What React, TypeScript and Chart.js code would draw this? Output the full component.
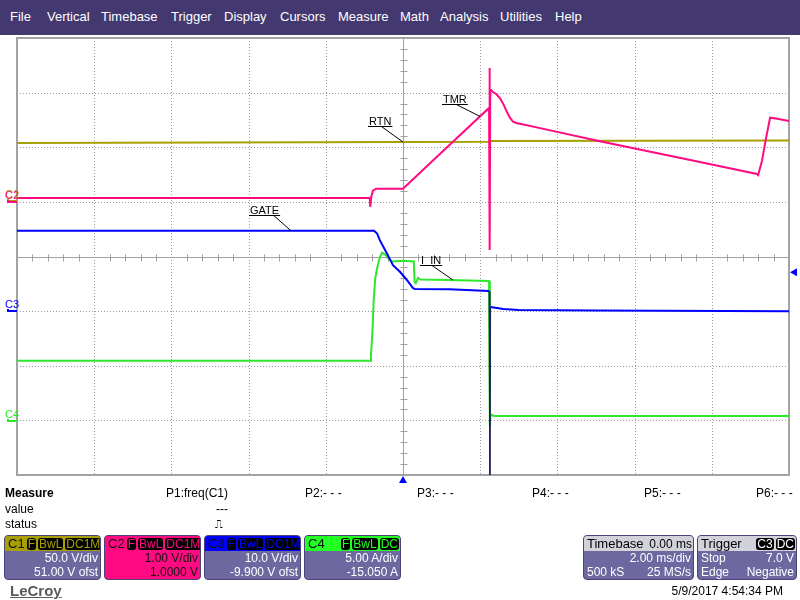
import React, { useEffect, useRef } from "react";
import { Chart, registerables } from "chart.js";

Chart.register(...registerables);

// ---------------- data ----------------
// time axis in ms (2.00 ms/div, 10 div), vertical axis in divisions (8 div)
const TIME_TICKS = [-10, -8, -6, -4, -2, 0, 2, 4, 6, 8, 10];
const DIV_TICKS = [-4, -3, -2, -1, 0, 1, 2, 3, 4];

// channel settings (V/div or A/div, offset)
const C1_SCALE = 50.0;
const C1_OFFSET = 51.0;
const C2_SCALE = 1.0;
const C2_OFFSET = 1.0;
const C3_SCALE = 10.0;
const C3_OFFSET = -9.9;
const C4_SCALE = 5.0;
const C4_OFFSET = -15.05;

// trigger
const TRIGGER_TIME = 0; // ms
const TRIGGER_LEVEL = 7.0; // V on C3

// C1 (RTN, volts)
const C1_T = [-10, 0, 2.24, 2.26, 10];
const C1_V = [52.9, 53.8, 54.0, 54.8, 55.2];

// C2 (TMR, volts)
const C2_T = [-10, -0.86, -0.85, -0.83, -0.82, -0.78, -0.7, 0, 0.9, 2.23, 2.24, 2.25, 2.26, 2.28, 2.33, 2.42, 2.51, 2.6, 2.69, 2.77, 2.85, 2.95, 3.03, 3.55, 5.1, 7.69, 9.17, 9.2, 9.3, 9.4, 9.51, 9.7, 10];
const C2_V = [0.07, 0.07, -0.09, -0.09, 0.1, 0.2, 0.24, 0.24, 0.84, 1.72, 2.45, -0.88, 2.05, 2.05, 2.01, 1.97, 1.9, 1.79, 1.65, 1.54, 1.47, 1.44, 1.43, 1.35, 1.11, 0.73, 0.51, 0.49, 0.75, 1.15, 1.54, 1.52, 1.48];

// C3 (GATE, volts)
const C3_T = [-10, -0.75, -0.67, -0.6, -0.42, -0.26, -0.08, 0.1, 0.26, 0.31, 1.2, 2.23, 2.25, 2.27, 2.6, 3.0, 5, 10];
const C3_V = [14.6, 14.6, 14.1, 12.9, 10.5, 8.3, 7.1, 5.6, 4.1, 3.95, 3.9, 3.6, -35, 0.65, 0.3, 0.1, 0.0, -0.1];

// C4 (I_IN, amps)
const C4_T = [-10, -0.85, -0.83, -0.79, -0.76, -0.72, -0.67, -0.6, -0.54, -0.45, -0.39, -0.29, 0.0, 0.28, 0.3, 0.33, 0.39, 0.45, 1.2, 2.23, 2.25, 2.27, 2.35, 10];
const C4_V = [5.5, 5.5, 6.0, 8.3, 11.0, 13.0, 14.0, 15.0, 15.4, 15.2, 14.9, 14.6, 14.65, 14.6, 12.7, 12.6, 13.1, 12.95, 12.9, 12.8, -0.5, 0.6, 0.45, 0.45];

// trace labels: text, channel it points at, time of the pointed spot, label position (ms, div)
const LABEL_TEXT = ["RTN", "TMR", "GATE", "I_IN"];
const LABEL_CHANNEL = [0, 1, 2, 3];
const LABEL_TARGET_T = [0, 1.995, -2.9, 1.295];
const LABEL_T = [-0.907, 1.01, -3.99, 0.44];
const LABEL_DIV = [2.39, 2.79, 0.76, -0.156];

// ---------------- colours ----------------
const COL_C1 = "#a89f00";
const COL_C2 = "#ff0a80";
const COL_C3 = "#0000ff";
const COL_C4 = "#2be82b";
const SLATE = "#6d68a0";
const MENU_BG = "#433870";

const toDiv = (v: number, scale: number, ofst: number) => (v + ofst) / scale;

const CHANNELS = [
  { t: C1_T, v: C1_V, scale: C1_SCALE, ofst: C1_OFFSET, color: COL_C1, name: "C1" },
  { t: C2_T, v: C2_V, scale: C2_SCALE, ofst: C2_OFFSET, color: COL_C2, name: "C2" },
  { t: C3_T, v: C3_V, scale: C3_SCALE, ofst: C3_OFFSET, color: COL_C3, name: "C3" },
  { t: C4_T, v: C4_V, scale: C4_SCALE, ofst: C4_OFFSET, color: COL_C4, name: "C4" },
];

function interp(ts: number[], vs: number[], t: number) {
  for (let i = 0; i < ts.length - 1; i++) {
    if (t >= ts[i] && t <= ts[i + 1]) {
      const f = ts[i + 1] === ts[i] ? 0 : (t - ts[i]) / (ts[i + 1] - ts[i]);
      return vs[i] + f * (vs[i + 1] - vs[i]);
    }
  }
  return vs[vs.length - 1];
}

const scopePlugin = {
  id: "scopeGrid",
  beforeDatasetsDraw(chart: any) {
    const { ctx, chartArea: a, scales } = chart;
    const x = scales.x;
    const y = scales.y;
    ctx.save();
    ctx.lineWidth = 1;
    ctx.strokeStyle = "#9c9c9c";
    ctx.setLineDash([1, 2]);
    TIME_TICKS.forEach((t) => {
      if (t === TIME_TICKS[0] || t === TIME_TICKS[TIME_TICKS.length - 1] || t === 0) return;
      const px = Math.round(x.getPixelForValue(t)) + 0.5;
      ctx.beginPath();
      ctx.moveTo(px, a.top);
      ctx.lineTo(px, a.bottom);
      ctx.stroke();
    });
    DIV_TICKS.forEach((d) => {
      if (d === DIV_TICKS[0] || d === DIV_TICKS[DIV_TICKS.length - 1] || d === 0) return;
      const py = Math.round(y.getPixelForValue(d)) + 0.5;
      ctx.beginPath();
      ctx.moveTo(a.left, py);
      ctx.lineTo(a.right, py);
      ctx.stroke();
    });
    ctx.setLineDash([]);
    // centre axes with minor ticks
    ctx.strokeStyle = "#a0a0a0";
    const cx = Math.round(x.getPixelForValue(0)) + 0.5;
    const cy = Math.round(y.getPixelForValue(0)) + 0.5;
    ctx.beginPath();
    ctx.moveTo(a.left, cy);
    ctx.lineTo(a.right, cy);
    ctx.moveTo(cx, a.top);
    ctx.lineTo(cx, a.bottom);
    for (let i = 1; i < 50; i++) {
      if (i % 5 === 0) continue;
      const px = Math.round(x.getPixelForValue(TIME_TICKS[0] + (i * 2) / 5)) + 0.5;
      ctx.moveTo(px, cy - 3);
      ctx.lineTo(px, cy + 4);
    }
    for (let j = 1; j < 40; j++) {
      if (j % 5 === 0) continue;
      const py = Math.round(y.getPixelForValue(DIV_TICKS[0] + j / 5)) + 0.5;
      ctx.moveTo(cx - 3, py);
      ctx.lineTo(cx + 4, py);
    }
    ctx.stroke();
    // border
    ctx.strokeStyle = "#a3a3a3";
    ctx.lineWidth = 2;
    ctx.strokeRect(a.left, a.top, a.right - a.left, a.bottom - a.top);
    ctx.restore();
  },
  afterDraw(chart: any) {
    const { ctx, chartArea: a, scales } = chart;
    const x = scales.x;
    const y = scales.y;
    ctx.save();
    // labels with leader lines
    ctx.font = "11px 'Liberation Sans', Arial, sans-serif";
    ctx.textBaseline = "alphabetic";
    ctx.fillStyle = "#000";
    ctx.strokeStyle = "#000";
    ctx.lineWidth = 1;
    LABEL_TEXT.forEach((txt, i) => {
      const ch = CHANNELS[LABEL_CHANNEL[i]];
      const lx = x.getPixelForValue(LABEL_T[i]);
      const ly = Math.round(y.getPixelForValue(LABEL_DIV[i])) + 0.5;
      const w = ctx.measureText(txt).width;
      ctx.fillText(txt, lx + 1, ly - 2);
      ctx.beginPath();
      ctx.moveTo(lx, ly);
      ctx.lineTo(lx + w + 2, ly);
      const tt = LABEL_TARGET_T[i];
      const tv = interp(ch.t, ch.v, tt);
      const tx = x.getPixelForValue(tt);
      const ty = y.getPixelForValue(toDiv(tv, ch.scale, ch.ofst));
      const sx = lx + (txt === "GATE" ? w * 0.85 : w * 0.6);
      ctx.moveTo(sx, ly);
      ctx.lineTo(tx, ty);
      ctx.stroke();
    });
    // channel ground markers on the left
    ctx.font = "11px 'Liberation Sans', Arial, sans-serif";
    const order = [0, 2, 3, 1];
    order.forEach((k) => {
      const ch = CHANNELS[k];
      const gy = Math.round(y.getPixelForValue(toDiv(0, ch.scale, ch.ofst)));
      ctx.fillStyle = ch.color;
      ctx.fillRect(a.left - 10, gy - 1, 10, 2);
      ctx.fillRect(a.left - 10, gy - 2, 2, 2);
      ctx.fillText(ch.name, a.left - 12, gy - 3);
    });
    // trigger level marker (right)
    const c3 = CHANNELS[2];
    const ty = y.getPixelForValue(toDiv(TRIGGER_LEVEL, c3.scale, c3.ofst));
    ctx.fillStyle = COL_C3;
    ctx.beginPath();
    ctx.moveTo(a.right + 1, ty);
    ctx.lineTo(a.right + 8, ty - 4);
    ctx.lineTo(a.right + 8, ty + 4);
    ctx.closePath();
    ctx.fill();
    // trigger time marker (bottom)
    const tx = x.getPixelForValue(TRIGGER_TIME);
    ctx.beginPath();
    ctx.moveTo(tx, a.bottom + 1);
    ctx.lineTo(tx - 4, a.bottom + 8);
    ctx.lineTo(tx + 4, a.bottom + 8);
    ctx.closePath();
    ctx.fill();
    ctx.restore();
  },
};

const FONT = "'Liberation Sans', Arial, sans-serif";

function Badge({ text, color, bg = "#000" }: { text: string; color: string; bg?: string }) {
  return (
    <span
      style={{
        display: "inline-block",
        background: bg,
        color,
        borderRadius: 3,
        padding: "0 1px",
        marginLeft: 2,
        height: 12,
        lineHeight: "12px",
        fontSize: 12,
      }}
    >
      {text}
    </span>
  );
}

function Box(props: {
  left: number;
  width: number;
  head: string;
  headText: string;
  title: string;
  badges: string[];
  badgeColor: string;
  body: string;
  bodyText: string;
  rows: [string, string][];
  headRight?: string;
}) {
  const p = props;
  return (
    <div
      style={{
        position: "absolute",
        left: p.left,
        top: 535,
        width: p.width,
        height: 45,
        background: p.body,
        border: "1px solid #4a4478",
        borderRadius: 4,
        overflow: "hidden",
        boxSizing: "border-box",
        fontFamily: FONT,
        fontSize: 12,
      }}
    >
      <div
        style={{
          height: 15,
          background: p.head,
          color: p.headText,
          display: "flex",
          alignItems: "center",
          justifyContent: "space-between",
          padding: "0 1px 0 3px",
          fontSize: 13,
        }}
      >
        <span>{p.title}</span>
        <span style={{ display: "flex", alignItems: "center" }}>
          {p.headRight ? <span style={{ fontSize: 12 }}>{p.headRight}</span> : null}
          {p.badges.map((b) => (
            <Badge key={b} text={b} color={p.badgeColor} />
          ))}
        </span>
      </div>
      {p.rows.map((r, i) => (
        <div
          key={i}
          style={{
            height: 14,
            lineHeight: "14px",
            color: p.bodyText,
            display: "flex",
            justifyContent: "space-between",
            padding: "0 2px 0 3px",
            fontSize: 12,
          }}
        >
          <span>{r[0]}</span>
          <span>{r[1]}</span>
        </div>
      ))}
    </div>
  );
}

const MENU_ITEMS = ["File", "Vertical", "Timebase", "Trigger", "Display", "Cursors", "Measure", "Math", "Analysis", "Utilities", "Help"];
const MENU_X = [10, 47, 101, 171, 224, 280, 338, 400, 440, 500, 555];

const MEASURE_LABELS = ["P1:freq(C1)", "P2:- - -", "P3:- - -", "P4:- - -", "P5:- - -", "P6:- - -"];
const MEASURE_X = [166, 305, 417, 532, 644, 756];

export default function App() {
  const ref = useRef<HTMLCanvasElement | null>(null);
  useEffect(() => {
    if (!ref.current) return;
    const datasets = CHANNELS.map((ch, k) => ({
      label: ch.name,
      data: ch.t.map((t, i) => ({ x: t, y: toDiv(ch.v[i], ch.scale, ch.ofst) })),
      borderColor: ch.color,
      backgroundColor: ch.color,
      borderWidth: 2,
      pointRadius: 0,
      tension: 0,
      fill: false,
      order: [4, 1, 2, 3][k],
      segment: {
        // clipped off-screen excursions are drawn as a thin dark line
        borderWidth: (c: any) => (c.p0.parsed.y < DIV_TICKS[0] || c.p1.parsed.y < DIV_TICKS[0] ? 1 : 2),
        borderColor: (c: any) =>
          c.p0.parsed.y < DIV_TICKS[0] || c.p1.parsed.y < DIV_TICKS[0] ? "#20205a" : ch.color,
      },
    }));
    const chart = new Chart(ref.current, {
      type: "line",
      data: { datasets },
      options: {
        animation: false,
        responsive: false,
        devicePixelRatio: 1,
        parsing: false,
        layout: { padding: { left: 17, right: 11, top: 38, bottom: 125 } },
        scales: {
          x: { type: "linear", min: TIME_TICKS[0], max: TIME_TICKS[TIME_TICKS.length - 1], display: false },
          y: { type: "linear", min: DIV_TICKS[0], max: DIV_TICKS[DIV_TICKS.length - 1], display: false },
        },
        plugins: { legend: { display: false }, tooltip: { enabled: false } },
        events: [],
      },
      plugins: [scopePlugin],
    } as any);
    return () => chart.destroy();
  }, []);

  return (
    <div
      style={{
        position: "absolute",
        left: 0,
        top: 0,
        width: 800,
        height: 600,
        background: "#fff",
        overflow: "hidden",
        fontFamily: FONT,
      }}
    >
      <canvas ref={ref} width={800} height={600} style={{ position: "absolute", left: 0, top: 0 }} />
      <div style={{ position: "absolute", left: 0, top: 0, width: 800, height: 35, background: MENU_BG }}>
        {MENU_ITEMS.map((m, i) => (
          <span
            key={m}
            style={{ position: "absolute", left: MENU_X[i], top: 9, fontSize: 13, lineHeight: "16px", color: "#fff" }}
          >
            {m}
          </span>
        ))}
      </div>
      <div style={{ position: "absolute", left: 5, top: 486, fontSize: 12, fontWeight: "bold", lineHeight: "15px" }}>Measure</div>
      <div style={{ position: "absolute", left: 5, top: 502, fontSize: 12, lineHeight: "15px" }}>value</div>
      <div style={{ position: "absolute", left: 5, top: 517, fontSize: 12, lineHeight: "15px" }}>status</div>
      {MEASURE_LABELS.map((m, i) => (
        <div key={m + i} style={{ position: "absolute", left: MEASURE_X[i], top: 486, fontSize: 12, lineHeight: "15px" }}>
          {m}
        </div>
      ))}
      <div style={{ position: "absolute", left: 216, top: 502, fontSize: 12, lineHeight: "15px" }}>---</div>
      <div style={{ position: "absolute", left: 215, top: 517, fontSize: 11, lineHeight: "15px" }}>⎍</div>

      <Box left={4} width={97} head={COL_C1} headText="#111" title="C1" badges={["F", "BwL", "DC1M"]} badgeColor={COL_C1}
        body={SLATE} bodyText="#fff" rows={[["", "50.0 V/div"], ["", "51.00 V ofst"]]} />
      <Box left={104} width={97} head={COL_C2} headText="#111" title="C2" badges={["F", "BwL", "DC1M"]} badgeColor={COL_C2}
        body={COL_C2} bodyText="#111" rows={[["", "1.00 V/div"], ["", "1.0000 V"]]} />
      <Box left={204} width={97} head={COL_C3} headText="#111" title="C3" badges={["F", "BwL", "DC1M"]} badgeColor={COL_C3}
        body={SLATE} bodyText="#fff" rows={[["", "10.0 V/div"], ["", "-9.900 V ofst"]]} />
      <Box left={304} width={97} head="#22ff22" headText="#111" title="C4" badges={["F", "BwL", "DC"]} badgeColor="#22ff22"
        body={SLATE} bodyText="#fff" rows={[["", "5.00 A/div"], ["", "-15.050 A"]]} />
      <Box left={583} width={111} head="#d2d2da" headText="#000" title="Timebase" headRight="0.00 ms" badges={[]} badgeColor="#fff"
        body={SLATE} bodyText="#fff" rows={[["", "2.00 ms/div"], ["500 kS", "25 MS/s"]]} />
      <Box left={697} width={100} head="#d2d2da" headText="#000" title="Trigger" badges={["C3", "DC"]} badgeColor="#fff"
        body={SLATE} bodyText="#fff" rows={[["Stop", "7.0 V"], ["Edge", "Negative"]]} />

      <div style={{ position: "absolute", left: 10, top: 582, fontSize: 15, fontWeight: "bold", color: "#5a5a5a", textDecoration: "underline", lineHeight: "17px" }}>
        LeCroy
      </div>
      <div style={{ position: "absolute", right: 17, top: 584, fontSize: 12, lineHeight: "15px", color: "#000" }}>
        5/9/2017 4:54:34 PM
      </div>
    </div>
  );
}
